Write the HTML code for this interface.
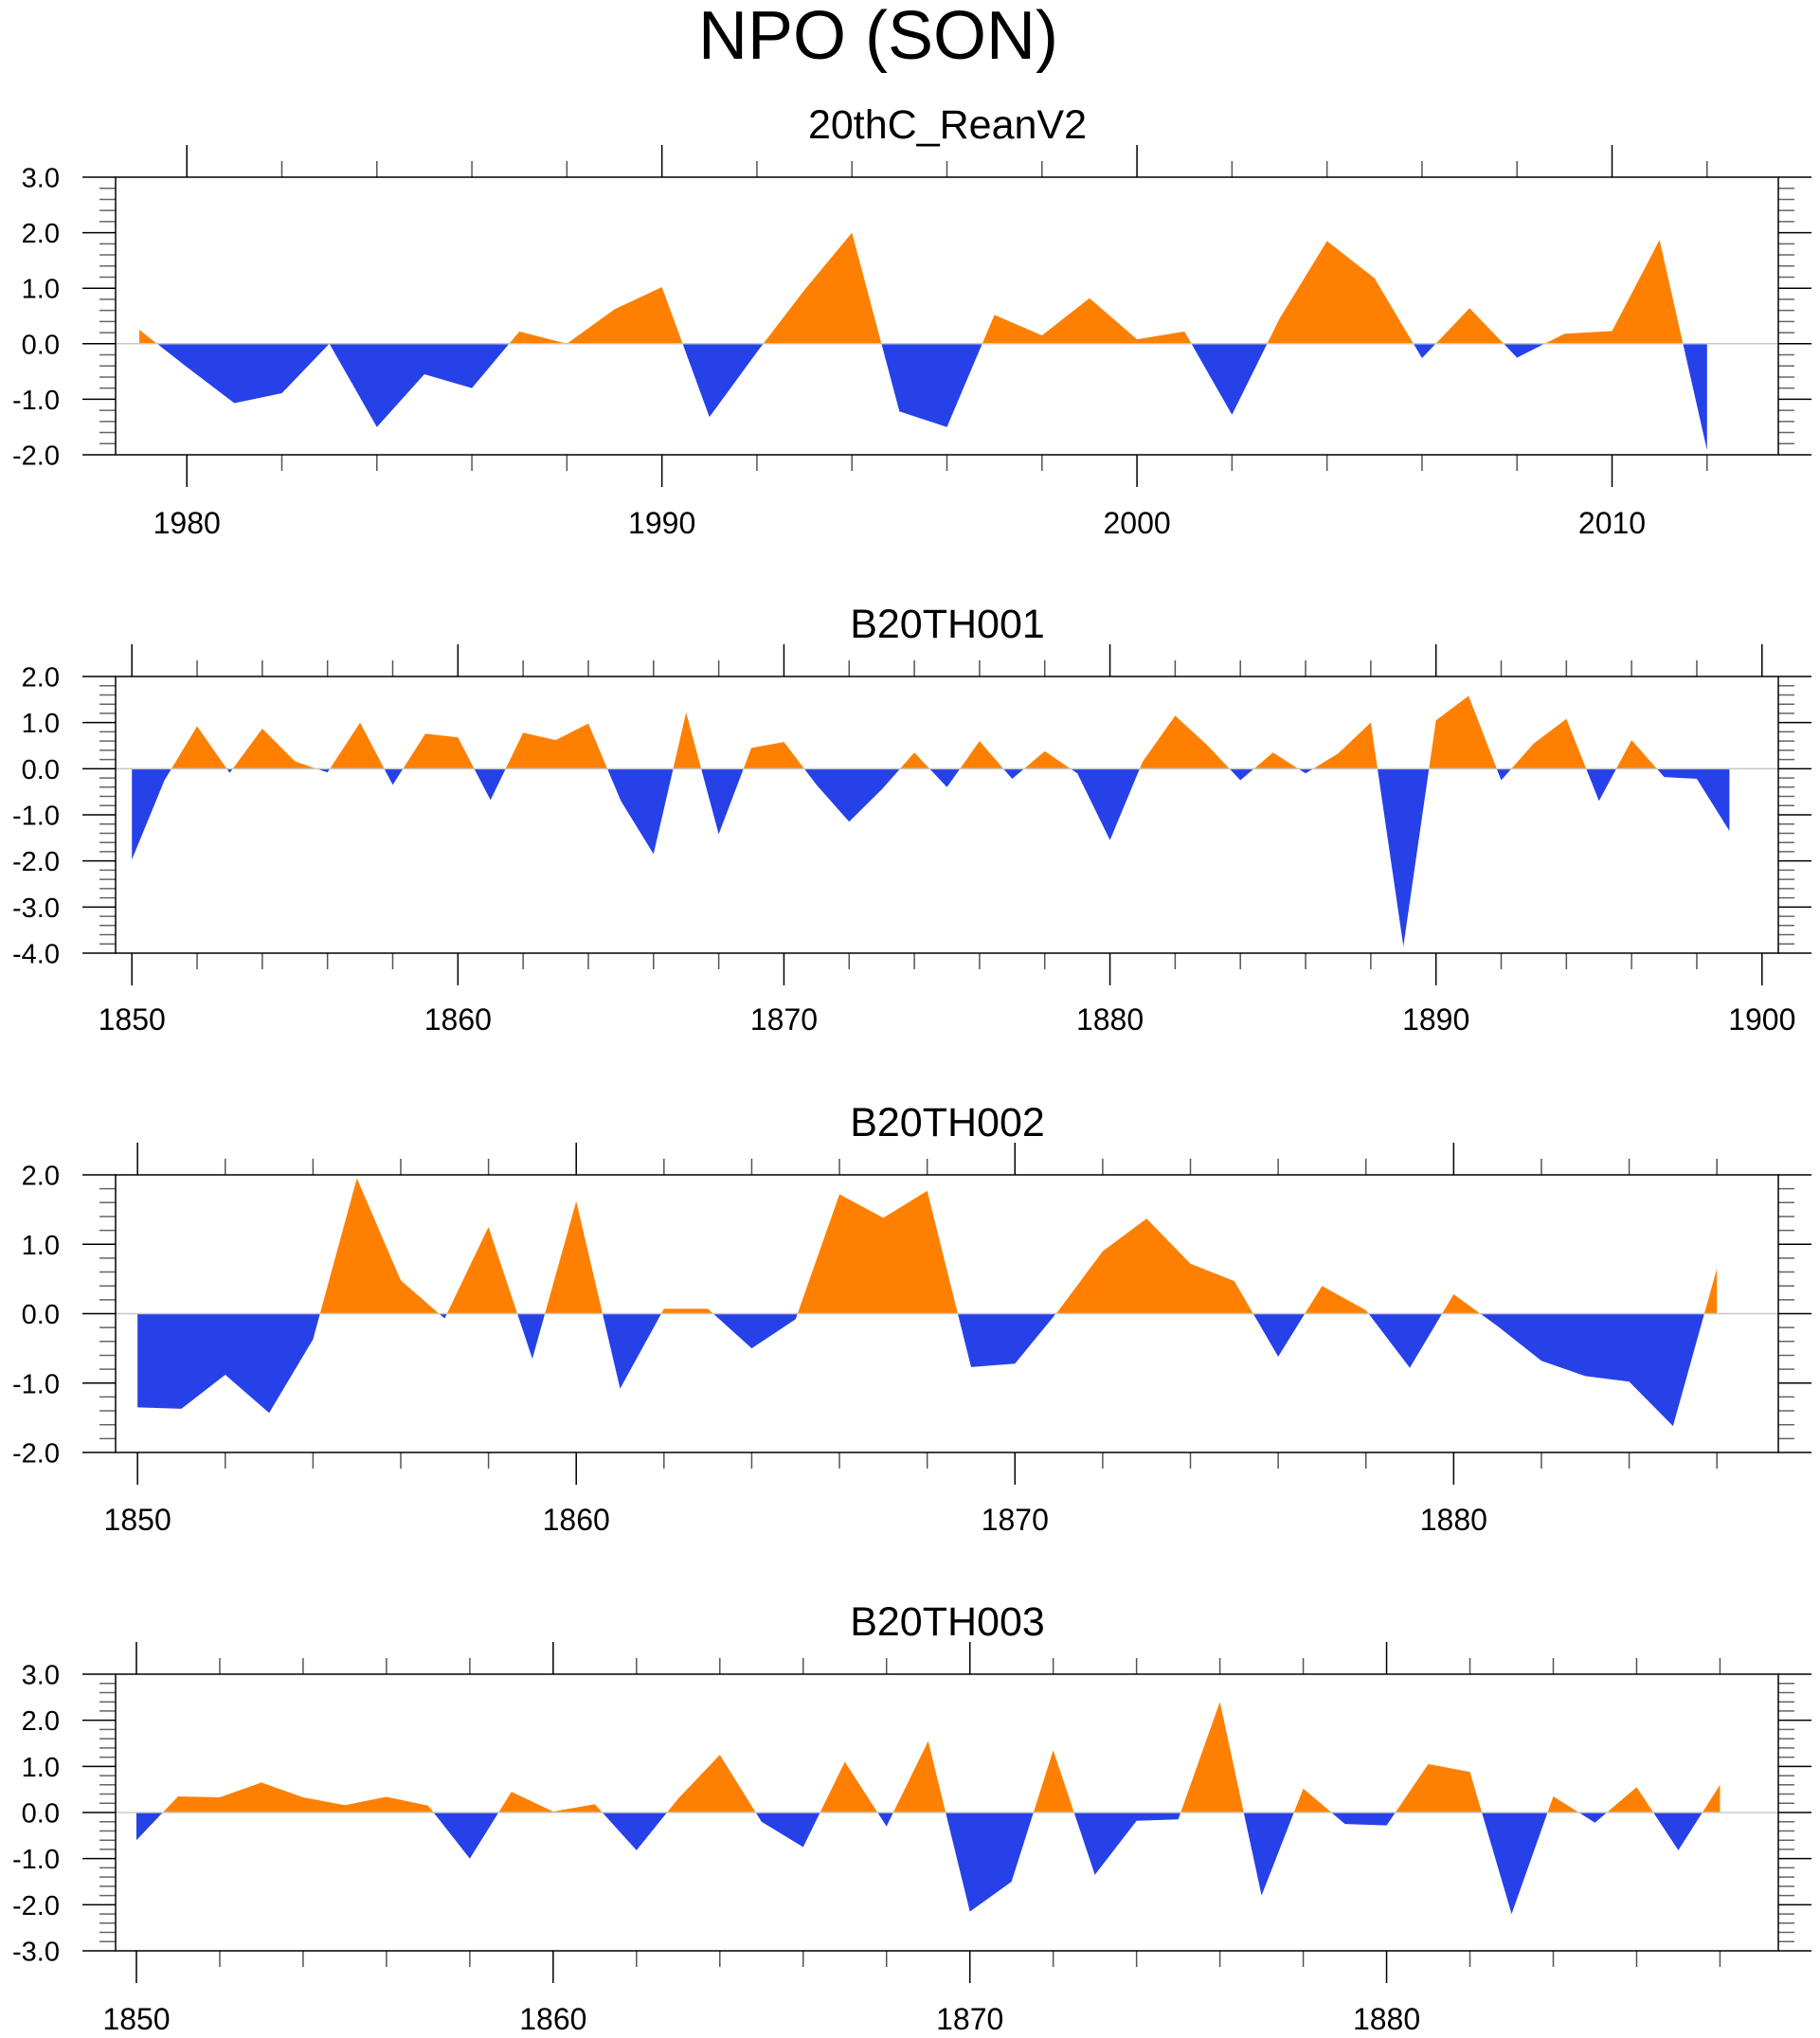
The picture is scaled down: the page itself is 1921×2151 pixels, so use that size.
<!DOCTYPE html>
<html><head><meta charset="utf-8"><style>
body{margin:0;background:#fff}
svg{display:block}
text{font-family:"Liberation Sans",Arial,sans-serif;fill:#000}
</style></head><body>
<svg id="chart" width="1921" height="2151" viewBox="0 0 1921 2151" xmlns="http://www.w3.org/2000/svg">
<text x="927" y="62" font-size="72" text-anchor="middle">NPO (SON)</text>
</svg>
<script>
const reanYears0 = 1979;
const reanValues = [0.25,-0.42,-1.07,-0.89,0.0,-1.5,-0.55,-0.8,0.22,0.0,0.62,1.02,-1.32,-0.15,0.97,2.0,-1.22,-1.5,0.52,0.15,0.82,0.08,0.22,-1.28,0.45,1.85,1.18,-0.26,0.64,-0.25,0.18,0.23,1.87,-1.92];
const b001Years0 = 1850;
const b001Values = [-1.97,-0.25,0.92,-0.09,0.87,0.16,-0.08,1.0,-0.35,0.76,0.68,-0.68,0.78,0.62,0.98,-0.7,-1.85,1.22,-1.42,0.45,0.58,-0.35,-1.15,-0.45,0.35,-0.4,0.6,-0.22,0.38,-0.1,-1.55,0.15,1.15,0.5,-0.25,0.35,-0.1,0.33,1.0,-3.85,1.05,1.58,-0.25,0.55,1.08,-0.7,0.62,-0.18,-0.22,-1.35];
const b002Years0 = 1850;
const b002Values = [-1.35,-1.37,-0.88,-1.43,-0.37,1.95,0.48,-0.07,1.25,-0.65,1.62,-1.08,0.07,0.07,-0.5,-0.08,1.72,1.38,1.77,-0.77,-0.72,0.05,0.9,1.37,0.72,0.47,-0.62,0.4,0.05,-0.78,0.28,-0.18,-0.68,-0.9,-0.98,-1.62,0.65];
const b003Years0 = 1850;
const b003Values = [-0.6,0.35,0.33,0.65,0.33,0.16,0.34,0.15,-1.0,0.45,0.02,0.18,-0.82,0.3,1.25,-0.2,-0.75,1.1,-0.3,1.55,-2.15,-1.5,1.35,-1.35,-0.18,-0.15,2.4,-1.8,0.52,-0.25,-0.28,1.05,0.88,-2.2,0.35,-0.22,0.55,-0.82,0.6];
const reanYTicks = ["3.0","2.0","1.0","0.0","-1.0","-2.0"];
const b001YTicks = ["2.0","1.0","0.0","-1.0","-2.0","-3.0","-4.0"];
const b002YTicks = ["2.0","1.0","0.0","-1.0","-2.0"];
const b003YTicks = ["3.0","2.0","1.0","0.0","-1.0","-2.0","-3.0"];
const reanXTicks = [1980,1990,2000,2010];
const b001XTicks = [1850,1860,1870,1880,1890,1900];
const b002XTicks = [1850,1860,1870,1880];
const b003XTicks = [1850,1860,1870,1880];

const NS="http://www.w3.org/2000/svg";
const svg=document.getElementById('chart');
function mk(tag,attrs,parent){const e=document.createElementNS(NS,tag);for(const k in attrs)e.setAttribute(k,attrs[k]);(parent||svg).appendChild(e);return e;}

const panels=[
 {name:'20thC_ReanV2',slug:'reanv2',y0:reanYears0,vals:reanValues,yt:reanYTicks,xt:reanXTicks,top:187,bot:480,xmin:1978.5,xmax:2013.5,lab:563},
 {name:'B20TH001',slug:'b20th001',y0:b001Years0,vals:b001Values,yt:b001YTicks,xt:b001XTicks,top:714,bot:1006,xmin:1849.5,xmax:1900.5,lab:1087},
 {name:'B20TH002',slug:'b20th002',y0:b002Years0,vals:b002Values,yt:b002YTicks,xt:b002XTicks,top:1240,bot:1533,xmin:1849.5,xmax:1887.4,lab:1615},
 {name:'B20TH003',slug:'b20th003',y0:b003Years0,vals:b003Values,yt:b003YTicks,xt:b003XTicks,top:1767,bot:2059,xmin:1849.5,xmax:1889.4,lab:2142}
];
const L=122,R=1877;
panels.forEach(p=>{
 const g=mk('g',{});
 
 
 const ymax=parseFloat(p.yt[0]),ymin=parseFloat(p.yt[p.yt.length-1]);
 const X=yr=>L+(yr-p.xmin)/(p.xmax-p.xmin)*(R-L);
 const Y=v=>p.top+(ymax-v)/(ymax-ymin)*(p.bot-p.top);
 const t=mk('text',{x:1000,y:p.top-41,'font-size':43,'text-anchor':'middle'},g);
 t.textContent=p.name;
 
 
 // fills
 let pos=[],neg=[];
 const n=p.vals.length;
 const x0=X(p.y0),xn=X(p.y0+n-1),zy=Y(0);
 pos.push([x0,zy]);neg.push([x0,zy]);
 for(let i=0;i<n;i++){
  const v=p.vals[i],x=X(p.y0+i);
  if(i>0){const u=p.vals[i-1];if((u>0&&v<0)||(u<0&&v>0)){const xc=X(p.y0+i-1+u/(u-v));pos.push([xc,zy]);neg.push([xc,zy]);}}
  pos.push([x,Y(Math.max(v,0))]);neg.push([x,Y(Math.min(v,0))]);
 }
 pos.push([xn,zy]);neg.push([xn,zy]);
 const pp=mk('polygon',{points:pos.map(a=>a.join(',')).join(' '),fill:'#ff8000'},g);
 
 
 const np=mk('polygon',{points:neg.map(a=>a.join(',')).join(' '),fill:'#2741e8'},g);
 
 
 const zl=mk('line',{x1:L,x2:R,y1:zy,y2:zy,stroke:'#c8c8c8','stroke-width':1.5},g);
 
 
 // y ticks
 for(let v=ymin;v<=ymax+1e-6;v+=0.2){
  const vv=Math.round(v*10)/10,maj=Math.abs(vv-Math.round(vv))<1e-6,len=maj?35:17,y=Y(vv);
  mk('line',{x1:L-len,x2:L,y1:y,y2:y,stroke:maj?'#000':'#666','stroke-width':1.5},g);
  mk('line',{x1:R,x2:R+len,y1:y,y2:y,stroke:maj?'#000':'#666','stroke-width':1.5},g);
 }
 p.yt.forEach(s=>{
  const e=mk('text',{x:63,y:Y(parseFloat(s))+10.5,'font-size':29,'text-anchor':'end'},g);
  e.textContent=s;
  
  
 });
 // x ticks
 for(let yr=Math.ceil(p.xmin/2)*2;yr<=p.xmax;yr+=2){
  const maj=yr%10===0,len=maj?34:17,x=X(yr);
  mk('line',{x1:x,x2:x,y1:p.top-len,y2:p.top,stroke:maj?'#000':'#555','stroke-width':1.5},g);
  mk('line',{x1:x,x2:x,y1:p.bot,y2:p.bot+len,stroke:maj?'#000':'#555','stroke-width':1.5},g);
 }
 p.xt.forEach(yr=>{
  const e=mk('text',{x:X(yr),y:p.lab,'font-size':32,'text-anchor':'middle'},g);
  e.textContent=yr;
  
  
 });
 const fr=mk('rect',{x:L,y:p.top,width:R-L,height:p.bot-p.top,fill:'none',stroke:'#000','stroke-width':1.5},g);
 
 
});
</script>
</body></html>
